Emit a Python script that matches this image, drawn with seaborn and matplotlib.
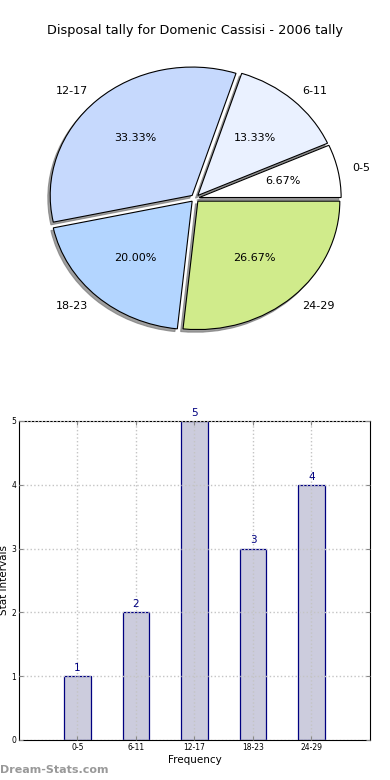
import matplotlib
matplotlib.use("Agg")
import matplotlib.pyplot as plt
import seaborn as sns

# data
intervals = ["0-5", "6-11", "12-17", "18-23", "24-29"]
tally = [1, 2, 5, 3, 4]
slice_colors = ["#ffffff", "#eaf1ff", "#c6d9fd", "#b3d5ff", "#d0eb8b"]

sns.set_style("white")
plt.rcParams["font.family"] = ["DejaVu Sans"]
plt.rcParams["text.color"] = "black"
plt.rcParams["axes.labelcolor"] = "black"
plt.rcParams["xtick.color"] = "black"
plt.rcParams["ytick.color"] = "black"

fig = plt.figure(figsize=(3.9, 7.8), dpi=100)

# pie (top)
ax1 = fig.add_axes([0.045, 0.540, 0.910, 0.4115])
ax1.pie(tally, labels=intervals, colors=slice_colors, autopct="%1.2f%%",
        explode=[0.03] * 5, startangle=0,
        shadow={"ox": -0.012, "oy": -0.015, "facecolor": "#777777",
                "edgecolor": "#777777", "alpha": 0.7},
        wedgeprops={"edgecolor": "black", "linewidth": 0.8},
        textprops={"fontsize": 8, "color": "black"})
ax1.set_aspect("auto")
ax1.set_xlim(-1.25, 1.25)
ax1.set_ylim(-1.25, 1.25)
fig.text(0.5, 0.961, "Disposal tally for Domenic Cassisi - 2006 tally",
         ha="center", va="center", fontsize=9.3)

# bars (bottom)
ax2 = fig.add_axes([0.0487, 0.0513, 0.9, 0.409])
sns.barplot(x=intervals, y=tally, ax=ax2, color="#ccccdd", saturation=1,
            width=0.45, edgecolor="navy", linewidth=0.9)
for i, v in enumerate(tally):
    ax2.text(i, v + 0.05, str(v), ha="center", va="bottom", color="navy", fontsize=7.5)
ax2.set_xlim(-1, 5)
ax2.set_ylim(0, 5)
ax2.set_yticks(range(6))
ax2.grid(True, linestyle=":", color="#c4c4c4", linewidth=1)
ax2.set_axisbelow(False)
ax2.tick_params(direction="in", length=3, labelsize=5.5, top=True, right=True,
                bottom=True, left=True, pad=2, color="#888888")
for s in ax2.spines.values():
    s.set_visible(True)
    s.set_color("black")
    s.set_linewidth(0.8)
ax2.set_xlabel("Frequency", fontsize=7.5, labelpad=2)
ax2.set_ylabel("Stat Intervals", fontsize=7.5, labelpad=2)

fig.text(0.0, 0.013, "Dream-Stats.com", color="#999999", fontsize=8,
         fontweight="bold", ha="left", va="center")

fig.savefig("out.png", dpi=100)
